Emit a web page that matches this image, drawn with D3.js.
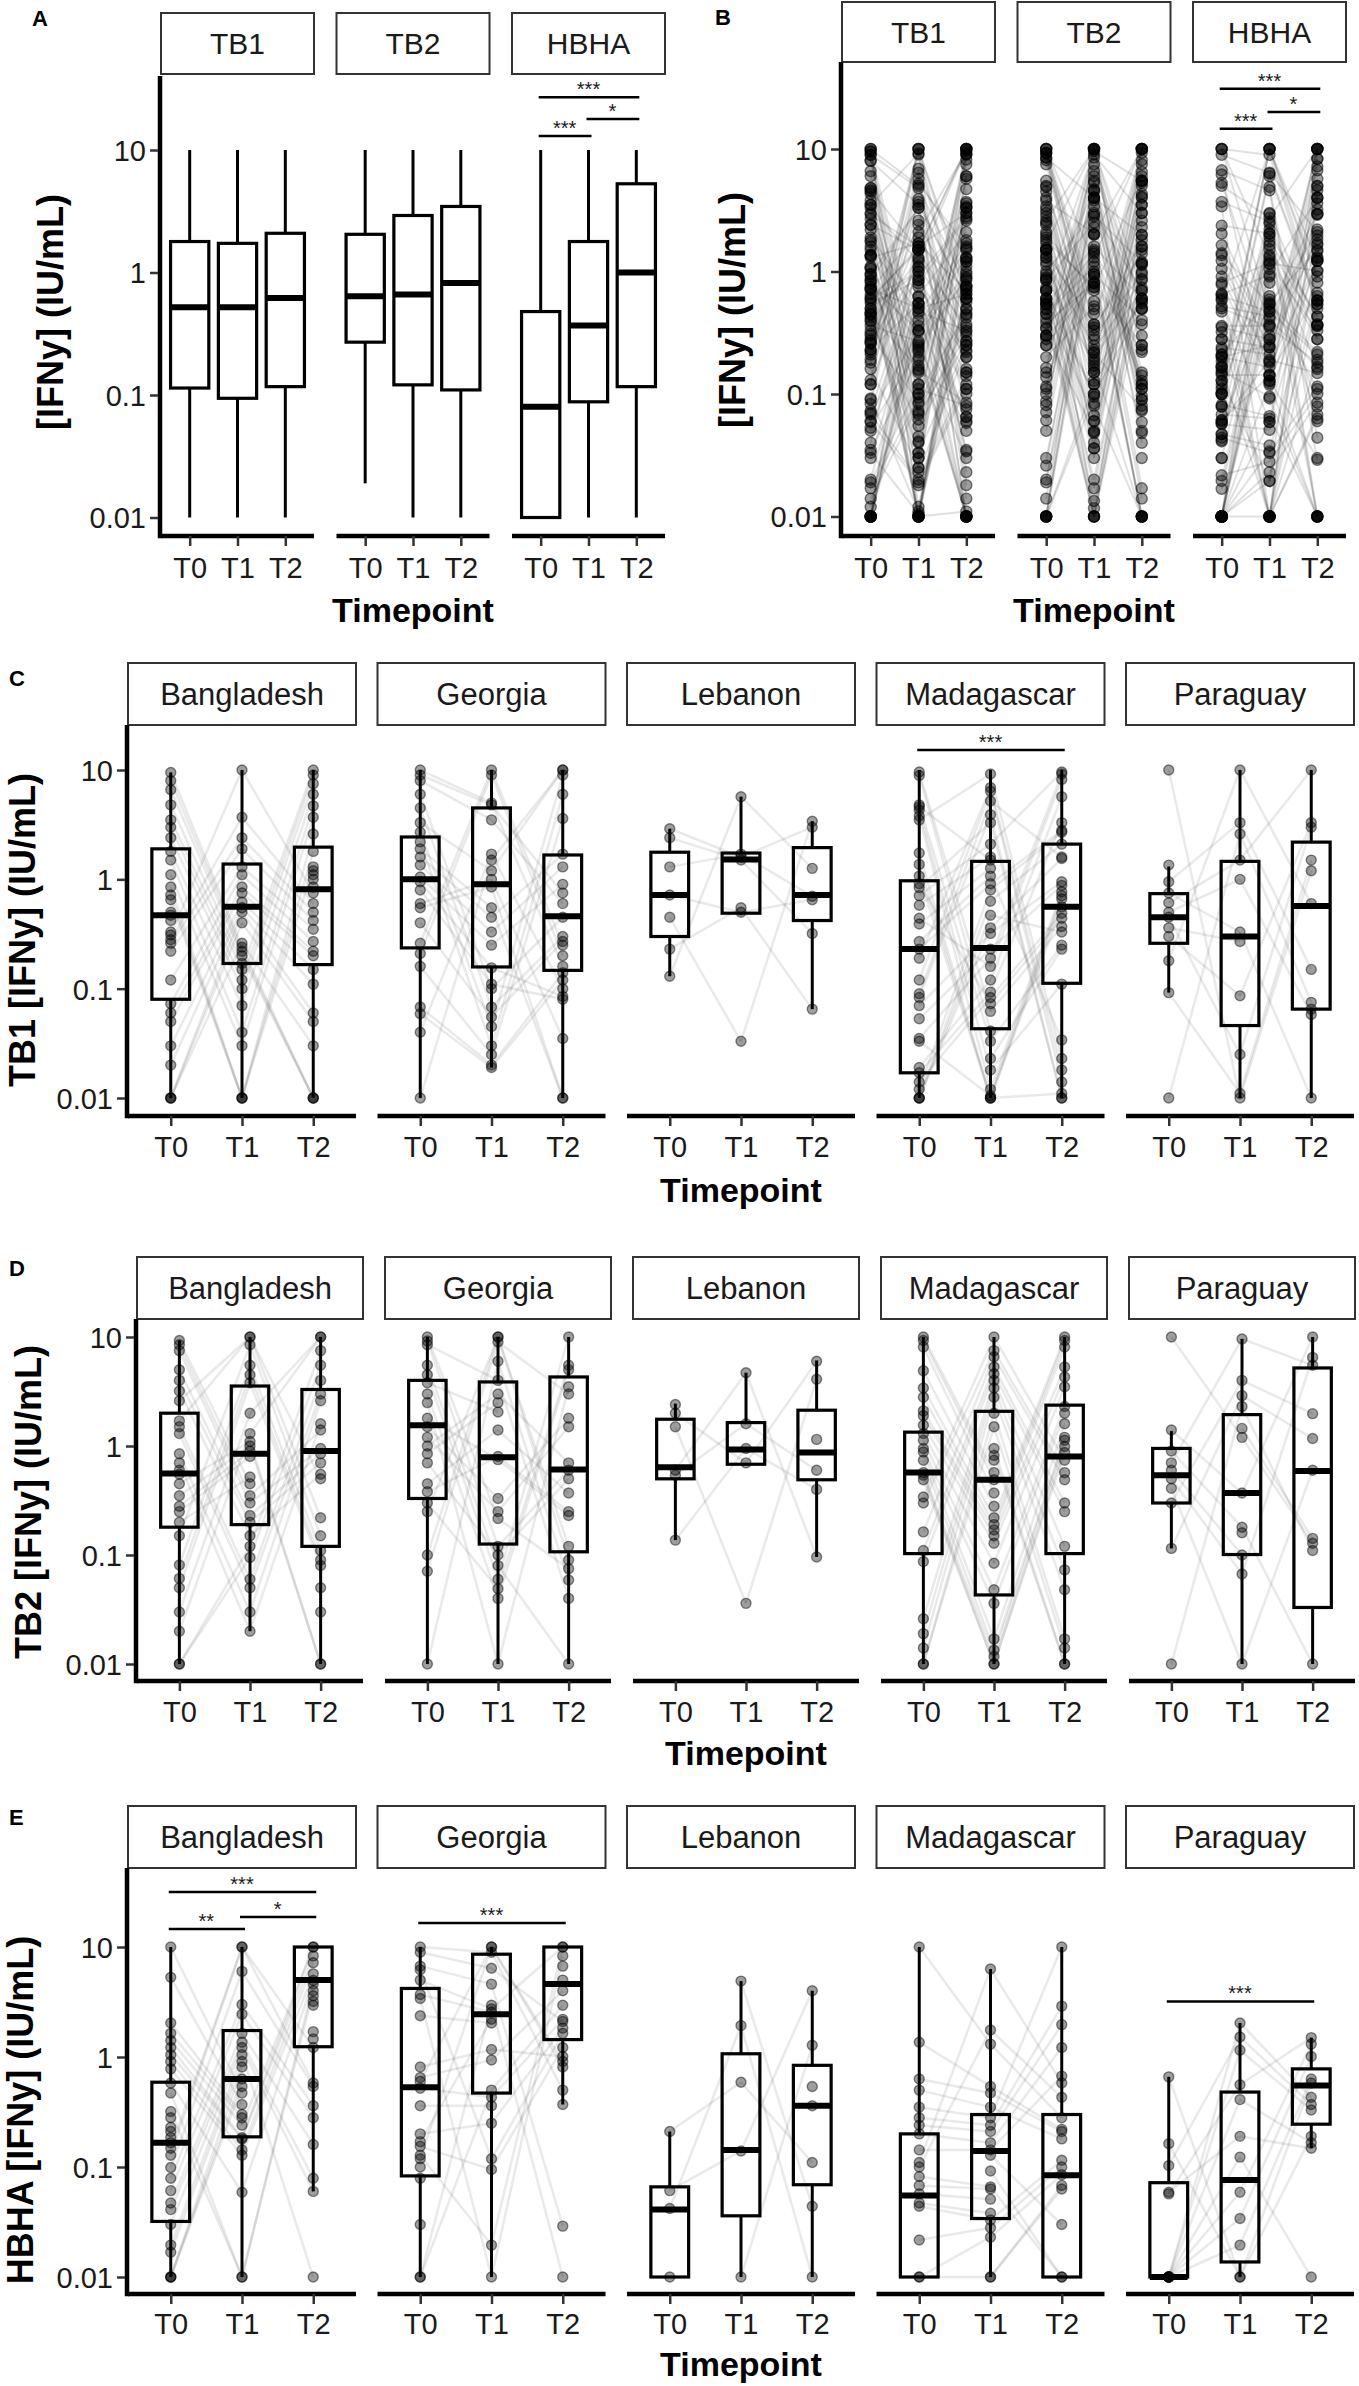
<!DOCTYPE html>
<html><head><meta charset="utf-8">
<script src="https://cdn.jsdelivr.net/npm/d3@7"></script>
<style>body{margin:0;background:#fff} svg{display:block}</style>
</head><body><svg id="chart" width="1359" height="2386"></svg>
<script>
// ---------------- DATA ----------------
const timepoints = ["T0","T1","T2"];
const antigens = ["TB1","TB2","HBHA"];
const countries = ["Bangladesh","Georgia","Lebanon","Madagascar","Paraguay"];
const tickValues = [0.01, 0.1, 1, 10];
const tickLabels = ["0.01","0.1","1","10"];
const xTitle = "Timepoint";
const yTitleAB = "[IFNy] (IU/mL)";
const yTitlesRows = ["TB1 [IFNy] (IU/mL)","TB2 [IFNy] (IU/mL)","HBHA [IFNy] (IU/mL)"];

// box stats per timepoint: [lower whisker, Q1, median, Q3, upper whisker]
const overallTB1 = [[0.01,0.114,0.52,1.79,10],[0.01,0.094,0.52,1.73,10],[0.01,0.117,0.62,2.09,10]];
const overallTB2 = [[0.019,0.27,0.64,2.05,10],[0.01,0.121,0.66,2.92,10],[0.01,0.11,0.82,3.46,10]];
const overallHBHA = [[0.01,0.01,0.08,0.48,10],[0.01,0.088,0.37,1.79,10],[0.01,0.117,1.0,5.3,10]];

const tb1Boxes = [
  [[0.01,0.08,0.47,1.9,9.5],[0.01,0.17,0.56,1.38,10],[0.01,0.166,0.81,1.97,10]],
  [[0.01,0.236,1.0,2.44,10],[0.019,0.158,0.9,4.5,10],[0.01,0.147,0.46,1.67,10]],
  [[0.13,0.3,0.72,1.77,2.9],[0.47,0.49,1.52,1.74,5.7],[0.065,0.42,0.72,1.95,3.4]],
  [[0.01,0.017,0.23,0.97,10],[0.01,0.043,0.235,1.46,10],[0.01,0.112,0.56,2.1,10]],
  [[0.092,0.26,0.45,0.74,1.31],[0.01,0.046,0.3,1.46,10],[0.01,0.065,0.57,2.19,10]]
];
const tb2Boxes = [
  [[0.01,0.18,0.56,2.0,9.3],[0.02,0.19,0.85,3.55,10],[0.01,0.12,0.9,3.3,10]],
  [[0.01,0.33,1.55,4.0,10],[0.01,0.126,0.79,3.87,10],[0.01,0.107,0.61,4.3,10]],
  [[0.137,0.5,0.64,1.76,2.45],[0.68,0.68,0.93,1.64,4.7],[0.096,0.49,0.87,2.13,6.1]],
  [[0.01,0.103,0.57,1.34,10],[0.01,0.043,0.49,2.08,10],[0.01,0.103,0.8,2.37,10]],
  [[0.115,0.3,0.54,0.95,1.37],[0.01,0.101,0.37,1.94,9.6],[0.01,0.033,0.59,5.2,10]]
];
const hbhaBoxes = [
  [[0.01,0.032,0.166,0.59,10],[0.01,0.188,0.63,1.74,10],[0.06,1.24,5.0,10,10]],
  [[0.01,0.083,0.53,4.2,10],[0.01,0.47,2.45,8.6,10],[0.37,1.44,4.6,10,10]],
  [[0.01,0.01,0.041,0.066,0.21],[0.01,0.036,0.143,1.07,4.9],[0.01,0.069,0.36,0.84,4.0]],
  [[0.01,0.01,0.055,0.2,10],[0.01,0.034,0.14,0.3,6.3],[0.01,0.01,0.084,0.3,10]],
  [[0.01,0.01,0.01,0.072,0.66],[0.01,0.0137,0.076,0.48,2.04],[0.148,0.245,0.55,0.78,1.5]]
];

// individual values per country: [T0 values, T1 values, T2 values]
const tb1Points = [
  [[9.5,8,6.6,4.8,3.5,3,2.4,1.8,1.5,1.1,0.85,0.72,0.65,0.5,0.47,0.42,0.33,0.31,0.28,0.26,0.22,0.12,0.073,0.06,0.05,0.03,0.02,0.01,0.01,0.01],
   [10,3.7,2.4,1.9,1.3,1.1,0.85,0.75,0.62,0.55,0.5,0.4,0.26,0.24,0.22,0.2,0.17,0.15,0.12,0.1,0.07,0.04,0.03,0.01,0.01,0.01],
   [10,9,7.5,6,4.7,3.7,2.6,1.8,1.3,1.2,1.1,1.0,0.85,0.75,0.6,0.5,0.42,0.35,0.27,0.22,0.2,0.15,0.11,0.06,0.05,0.03,0.01,0.01,0.01]],
  [[10,9,8,6,4.5,3.3,2.7,2.2,1.9,1.6,1.35,1.05,0.95,0.8,0.6,0.55,0.4,0.26,0.21,0.16,0.068,0.059,0.04,0.01],
   [10,9,5,4.8,3.5,1.7,1.5,1.2,1.0,0.85,0.55,0.45,0.33,0.25,0.155,0.11,0.1,0.068,0.055,0.045,0.03,0.025,0.02,0.019],
   [10,10,9,6,3.6,1.7,1.3,0.9,0.75,0.6,0.45,0.3,0.27,0.25,0.2,0.16,0.14,0.12,0.1,0.085,0.08,0.035,0.01,0.01]],
  [[2.9,2.4,1.3,0.72,0.45,0.23,0.13],
   [5.7,1.7,1.6,1.5,0.55,0.5,0.033],
   [3.4,3.0,1.26,0.7,0.65,0.32,0.065]],
  [[9.6,8.9,4.8,4.6,4.3,3.8,3.5,1.74,1.37,1.07,0.91,0.84,0.71,0.58,0.44,0.39,0.27,0.23,0.19,0.12,0.09,0.083,0.07,0.053,0.035,0.033,0.019,0.017,0.014,0.012,0.01,0.01,0.01],
   [9.2,6.9,6.4,5.2,3.9,3.3,2.1,1.6,1.5,1.26,1.07,0.91,0.8,0.63,0.47,0.36,0.32,0.23,0.19,0.16,0.12,0.093,0.083,0.073,0.062,0.041,0.033,0.023,0.018,0.012,0.0105,0.01,0.01,0.01],
   [9.6,9.2,8.2,5.7,3.3,2.8,2.7,2.1,1.6,1.55,0.95,0.88,0.77,0.71,0.66,0.56,0.49,0.44,0.37,0.33,0.25,0.23,0.11,0.034,0.023,0.018,0.014,0.011,0.01,0.01]],
  [[10,1.35,0.95,0.75,0.61,0.5,0.45,0.36,0.3,0.18,0.092,0.01],
   [10,3.3,2.6,1.5,1.0,0.33,0.27,0.086,0.025,0.011,0.01],
   [10,3.3,3.0,1.5,1.2,0.6,0.15,0.075,0.065,0.058,0.01]]
];
const tb2Points = [
  [[9.3,8.5,7.5,5,4,3.2,2.6,1.7,1.5,1.3,0.85,0.7,0.6,0.55,0.45,0.35,0.28,0.25,0.2,0.15,0.081,0.061,0.05,0.03,0.02,0.01,0.01],
   [10,10,8.5,5.5,4.5,3.8,2,1.3,1.1,1.0,0.9,0.8,0.52,0.45,0.35,0.3,0.23,0.2,0.15,0.12,0.095,0.06,0.05,0.03,0.02],
   [10,10,7.5,5.5,4,3,2.6,1.6,1.4,0.95,0.85,0.7,0.55,0.5,0.22,0.15,0.11,0.09,0.08,0.05,0.03,0.01,0.01]],
  [[10,9.2,8.5,5.5,4.5,3.8,3.0,2.5,1.8,1.5,1.2,1.0,0.85,0.7,0.45,0.38,0.3,0.25,0.1,0.071,0.01],
   [10,10,9,6,4,3,2.5,2.05,1.4,0.8,0.75,0.33,0.25,0.216,0.12,0.1,0.08,0.06,0.049,0.04,0.01],
   [10,5.5,5,3.5,3.0,1.8,1.5,0.7,0.6,0.5,0.37,0.25,0.23,0.12,0.09,0.075,0.059,0.04,0.01]],
  [[2.4,2.0,1.5,0.6,0.54,0.137],
   [4.7,1.6,0.95,0.7,0.036],
   [6.0,4.1,1.15,0.6,0.4,0.096]],
  [[10,9.3,8.1,4.9,3.4,2.8,2.1,1.9,1.55,1.3,1.13,0.95,0.88,0.74,0.57,0.54,0.49,0.34,0.3,0.163,0.11,0.087,0.026,0.019,0.014,0.01,0.01],
   [10,7.5,6.6,5.3,4.6,4.0,3.4,2.8,2.0,1.5,0.95,0.82,0.74,0.57,0.49,0.37,0.28,0.22,0.19,0.17,0.15,0.128,0.084,0.048,0.036,0.017,0.0134,0.0117,0.01,0.01],
   [10,9.3,8.1,5.3,4.3,3.5,2.3,2.0,1.6,1.2,1.13,0.99,0.87,0.74,0.57,0.49,0.3,0.25,0.12,0.073,0.048,0.017,0.014,0.01,0.01]],
  [[10,1.4,0.9,0.7,0.6,0.5,0.41,0.3,0.115,0.01],
   [9.6,4.0,2.9,2.3,1.45,1.2,0.37,0.18,0.16,0.1,0.067,0.01],
   [10,6.5,5.5,1.98,1.17,0.6,0.142,0.128,0.11,0.01]]
];
const hbhaPoints = [
  [[10,5.3,2.04,1.64,1.41,1.22,1.05,0.91,0.78,0.58,0.47,0.32,0.28,0.23,0.21,0.185,0.166,0.148,0.128,0.099,0.079,0.061,0.047,0.041,0.03,0.0195,0.0168,0.01,0.01,0.01],
   [10,10,6.0,3.0,2.45,1.64,1.36,1.22,1.05,0.91,0.81,0.63,0.54,0.47,0.37,0.3,0.28,0.24,0.185,0.18,0.143,0.128,0.059,0.01,0.01],
   [10,10,8.3,7.2,5.7,4.96,4.6,4.0,3.6,3.2,2.95,1.7,1.46,1.22,0.58,0.54,0.36,0.28,0.16,0.079,0.06,0.01]],
  [[10,8.95,6.7,6.2,5.0,3.7,3.4,2.37,0.81,0.65,0.6,0.52,0.36,0.2,0.17,0.154,0.128,0.119,0.1,0.079,0.03,0.01,0.01],
   [10,10,8.95,6.4,4.6,2.95,2.74,2.55,2.2,2.04,1.17,0.94,0.5,0.43,0.36,0.25,0.119,0.095,0.0195,0.01],
   [10,10,8.3,6.7,5.0,4.0,2.95,2.2,2.1,1.83,1.64,1.22,1.01,0.91,0.81,0.5,0.37,0.029,0.01]],
  [[0.21,0.061,0.042,0.01],
   [4.9,1.93,0.59,0.14,0.01],
   [4.0,1.28,0.54,0.36,0.11,0.044,0.01]],
  [[10,1.36,0.63,0.5,0.35,0.28,0.24,0.2,0.143,0.11,0.1,0.082,0.068,0.057,0.047,0.044,0.0217,0.01,0.01],
   [6.3,1.76,1.31,0.54,0.47,0.35,0.28,0.24,0.21,0.166,0.143,0.128,0.092,0.066,0.063,0.051,0.038,0.033,0.028,0.023,0.01,0.01],
   [10,2.9,1.97,1.22,0.67,0.58,0.43,0.28,0.22,0.21,0.18,0.115,0.1,0.085,0.068,0.063,0.03,0.01,0.01]],
  [[0.66,0.163,0.103,0.059,0.057,0.01,0.01,0.01,0.01,0.01,0.01,0.01],
   [2.04,1.52,1.15,0.56,0.41,0.19,0.123,0.059,0.034,0.0195,0.01,0.01],
   [1.5,1.31,1.01,0.63,0.58,0.43,0.37,0.33,0.19,0.166,0.148,0.01]]
];

// significance brackets: [facet, from, to, bracket height (IU/mL), label]
const sigA = [["HBHA","T0","T2",27,"***"],["HBHA","T1","T2",17.9,"*"],["HBHA","T0","T1",13,"***"]];
const sigB = [["HBHA","T0","T2",31,"***"],["HBHA","T1","T2",20,"*"],["HBHA","T0","T1",14.6,"***"]];
const sigTB1 = [["Madagascar","T0","T2",15.2,"***"]];
const sigTB2 = [];
const sigHBHA = [["Bangladesh","T0","T2",31.6,"***"],["Bangladesh","T1","T2",18.7,"*"],["Bangladesh","T0","T1",14.6,"**"],
                 ["Georgia","T0","T2",16.5,"***"],["Paraguay","T0","T2",3.2,"***"]];

// ---------------- LAYOUT ----------------
const FONT = "'Liberation Sans', Arial, Helvetica, sans-serif";
const svg = d3.select("#chart");

const layA = {label:"A",labelX:32,labelY:26,left:161,facetW:153,step:175.5,stripTop:13,stripH:61,plotTop:76,
  y10:150,y001:517.5,axisY:536,tickLabelDy:32,titleY:610,yTitleX:50,yTitleY:312,boxFrac:0.8,stripFont:30,yTitleFont:36};
const layB = {label:"B",labelX:715,labelY:25,left:842,facetW:153,step:175.5,stripTop:2,stripH:60,plotTop:62,
  y10:149,y001:516.5,axisY:536,tickLabelDy:32,titleY:610,yTitleX:732,yTitleY:310,boxFrac:0.8,stripFont:30,yTitleFont:36};
const layRows = [
  {label:"C",labelX:9,labelY:686,left:128,facetW:228,step:249.5,stripTop:663,stripH:62,plotTop:725,
   y10:770,y001:1098,axisY:1116,tickLabelDy:31,titleY:1190,yTitleX:22,yTitleY:930,boxFrac:0.53,stripFont:31,yTitleFont:36},
  {label:"D",labelX:9,labelY:1276,left:137,facetW:226,step:248,stripTop:1257,stripH:62,plotTop:1319,
   y10:1337,y001:1664,axisY:1681,tickLabelDy:31,titleY:1753,yTitleX:28,yTitleY:1502,boxFrac:0.53,stripFont:31,yTitleFont:36},
  {label:"E",labelX:9,labelY:1825,left:128,facetW:228,step:249.5,stripTop:1806,stripH:62,plotTop:1868,
   y10:1947,y001:2277,axisY:2294,tickLabelDy:30,titleY:2364,yTitleX:20,yTitleY:2110,boxFrac:0.53,stripFont:31,yTitleFont:36}
];

// pairing of values into subjects (which points are joined by a line)
function order(n, seed){ return d3.range(n).sort((a,b)=>((a*37+seed*23)%101)-((b*37+seed*23)%101)); }
function subjects(lists, seed){
  const n = d3.max(lists, l=>l.length);
  const ords = lists.map((l,t)=>order(n, seed*3+t+1));
  return d3.range(n).map(i=>lists.map((l,t)=>{const k=ords[t][i]; return k<l.length? l[k] : null;}));
}

function drawPanel(lay, facetNames, boxes, pointLists, subjectLists, sig, yTitle, style){
  const g = svg.append("g");
  const y = d3.scaleLog().domain([0.01,10]).range([lay.y001, lay.y10]);
  const right = lay.left + (facetNames.length-1)*lay.step + lay.facetW;

  facetNames.forEach((name, fi)=>{
    const fx = lay.left + fi*lay.step;
    const x = d3.scalePoint().domain(timepoints).range([fx, fx+lay.facetW]).padding(0.6);
    const bw = x.step()*lay.boxFrac;
    // strip
    g.append("rect").attr("x",fx).attr("y",lay.stripTop).attr("width",lay.facetW).attr("height",lay.stripH)
      .attr("fill","#fff").attr("stroke","#333").attr("stroke-width",2);
    g.append("text").attr("x",fx+lay.facetW/2).attr("y",lay.stripTop+lay.stripH/2+lay.stripFont*0.36)
      .attr("text-anchor","middle").attr("font-family",FONT).attr("font-size",lay.stripFont).attr("fill","#1a1a1a").text(name);

    // connecting lines
    if (subjectLists){
      subjectLists[fi].forEach(s=>{
        for(let t=0;t<2;t++){
          if(s[t]!=null && s[t+1]!=null){
            g.append("line").attr("x1",x(timepoints[t])).attr("y1",y(s[t]))
              .attr("x2",x(timepoints[t+1])).attr("y2",y(s[t+1]))
              .attr("stroke",style.lineColor).attr("stroke-width",style.lineWidth);
          }
        }
      });
    }
    // boxes
    if (boxes){
      boxes[fi].forEach((b,t)=>{
        const cx = x(timepoints[t]);
        const [lo,q1,md,q3,hi] = b;
        g.append("line").attr("x1",cx).attr("x2",cx).attr("y1",y(hi)).attr("y2",y(q3)).attr("stroke","#000").attr("stroke-width",3);
        g.append("line").attr("x1",cx).attr("x2",cx).attr("y1",y(q1)).attr("y2",y(lo)).attr("stroke","#000").attr("stroke-width",3);
        g.append("rect").attr("x",cx-bw/2).attr("y",y(q3)).attr("width",bw).attr("height",Math.max(0,y(q1)-y(q3)))
          .attr("fill","none").attr("stroke","#000").attr("stroke-width",3.2);
        g.append("line").attr("x1",cx-bw/2).attr("x2",cx+bw/2).attr("y1",y(md)).attr("y2",y(md)).attr("stroke","#000").attr("stroke-width",6);
      });
    }
    // points
    if (pointLists){
      pointLists[fi].forEach((vals,t)=>{
        g.selectAll(null).data(vals).enter().append("circle")
          .attr("cx",x(timepoints[t])).attr("cy",d=>y(d)).attr("r",style.r)
          .attr("fill",style.ptFill).attr("stroke",style.ptStroke).attr("stroke-width",1.4);
      });
    }
    // x axis
    g.append("line").attr("x1",fx).attr("x2",fx+lay.facetW).attr("y1",lay.axisY).attr("y2",lay.axisY)
      .attr("stroke","#000").attr("stroke-width",4.5);
    const xa = g.append("g").attr("transform",`translate(0,${lay.axisY})`)
      .call(d3.axisBottom(x).tickSize(10).tickSizeOuter(0));
    xa.select(".domain").remove();
    xa.selectAll(".tick line").attr("stroke","#333").attr("stroke-width",2.5);
    xa.selectAll(".tick text").attr("y",lay.tickLabelDy).attr("dy","0.36em").attr("font-family",FONT)
      .attr("font-size",29).attr("fill","#1a1a1a");
    // significance
    sig.filter(s=>s[0]===name).forEach(s=>{
      const x1 = x(s[1]), x2 = x(s[2]), yy = y(s[3]);
      g.append("line").attr("x1",x1-2).attr("x2",x2+3).attr("y1",yy).attr("y2",yy).attr("stroke","#000").attr("stroke-width",2.5);
      g.append("text").attr("x",(x1+x2)/2).attr("y",yy-1).attr("text-anchor","middle").attr("font-family",FONT)
        .attr("font-size",20).attr("fill","#1a1a1a").text(s[4]);
    });
  });

  // y axis
  g.append("line").attr("x1",lay.left-1).attr("x2",lay.left-1).attr("y1",lay.plotTop).attr("y2",lay.axisY+2.2)
    .attr("stroke","#000").attr("stroke-width",4.5);
  const ya = g.append("g").attr("transform",`translate(${lay.left-3},0)`)
    .call(d3.axisLeft(y).tickValues(tickValues).tickFormat((d,i)=>tickLabels[i]).tickSize(8).tickSizeOuter(0).tickPadding(4));
  ya.select(".domain").remove();
  ya.selectAll(".tick line").attr("stroke","#333").attr("stroke-width",2.5);
  ya.selectAll(".tick text").attr("font-family",FONT).attr("font-size",29).attr("fill","#1a1a1a").attr("dy","0.36em");

  // titles
  g.append("text").attr("x",(lay.left+right)/2).attr("y",lay.titleY).attr("dy","0.36em").attr("text-anchor","middle")
    .attr("font-family",FONT).attr("font-weight","bold").attr("font-size",34).attr("fill","#000").text(xTitle);
  g.append("text").attr("transform",`translate(${lay.yTitleX},${lay.yTitleY}) rotate(-90)`).attr("dy","0.36em")
    .attr("text-anchor","middle").attr("font-family",FONT).attr("font-weight","bold").attr("font-size",lay.yTitleFont).attr("fill","#000").text(yTitle);
  g.append("text").attr("x",lay.labelX).attr("y",lay.labelY).attr("font-family",FONT).attr("font-weight","bold")
    .attr("font-size",22).attr("fill","#000").text(lay.label);
}

const rowPoints = [tb1Points, tb2Points, hbhaPoints];
const rowBoxes = [tb1Boxes, tb2Boxes, hbhaBoxes];
const rowSig = [sigTB1, sigTB2, sigHBHA];
const rowSubjects = rowPoints.map((pts,a)=>pts.map((lists,c)=>subjects(lists, a*5+c)));

const styleRow = {lineColor:"rgba(0,0,0,0.085)", lineWidth:2.5, r:5, ptFill:"rgba(0,0,0,0.38)", ptStroke:"rgba(0,0,0,0.45)"};
const styleB = {lineColor:"rgba(0,0,0,0.12)", lineWidth:2, r:5.5, ptFill:"rgba(0,0,0,0.38)", ptStroke:"rgba(0,0,0,0.5)"};

// Panel A: overall box plots
drawPanel(layA, antigens, [overallTB1, overallTB2, overallHBHA], null, null, sigA, yTitleAB, styleRow);
// Panel B: all individual values per antigen (all countries together)
const bPoints = rowPoints.map(pts=>timepoints.map((tp,t)=>pts.flatMap(lists=>lists[t])));
const bSubjects = rowSubjects.map(subs=>subs.flat());
drawPanel(layB, antigens, null, bPoints, bSubjects, sigB, yTitleAB, styleB);
// Panels C, D, E
layRows.forEach((lay,a)=>{
  drawPanel(lay, countries, rowBoxes[a], rowPoints[a], rowSubjects[a], rowSig[a], yTitlesRows[a], styleRow);
});
</script>
</body></html>
